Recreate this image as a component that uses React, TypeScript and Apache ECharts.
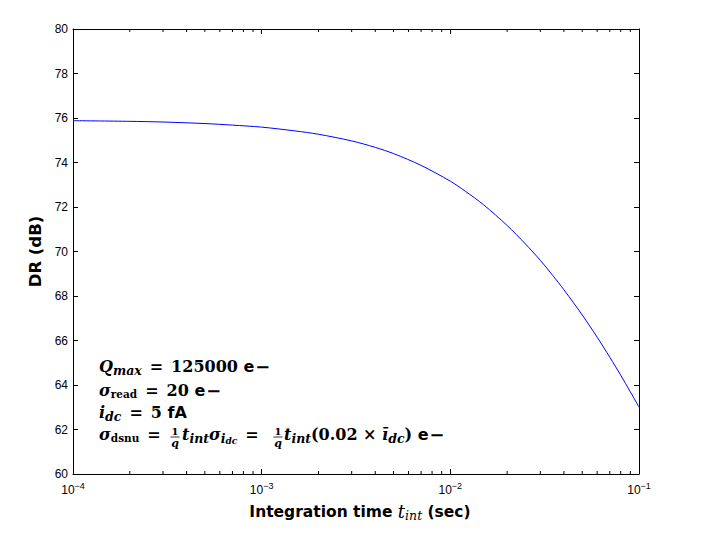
import React, { useEffect, useRef } from "react";
import * as echarts from "echarts";

// Integration time (s) and dynamic range (dB)
const timeSec = [
  1e-4, 2e-4, 3e-4, 5e-4, 7e-4, 1e-3, 1.5e-3, 2e-3, 3e-3, 4e-3, 5e-3, 7e-3,
  1e-2, 1.2e-2, 1.5e-2, 2e-2, 2.5e-2, 3e-2, 3.5e-2, 4e-2, 4.5e-2, 5e-2, 6e-2,
  7e-2, 8e-2, 9e-2, 1e-1,
];
const drDb = [
  75.88, 75.85, 75.82, 75.75, 75.68, 75.59, 75.42, 75.27, 74.97, 74.68, 74.4,
  73.87, 73.16, 72.71, 72.1, 71.17, 70.34, 69.6, 68.91, 68.28, 67.69, 67.15,
  66.15, 65.25, 64.44, 63.69, 63.01,
];

// minor tick positions of the log axis
const minorTicks = [
  2e-4, 3e-4, 4e-4, 5e-4, 6e-4, 7e-4, 8e-4, 9e-4,
  2e-3, 3e-3, 4e-3, 5e-3, 6e-3, 7e-3, 8e-3, 9e-3,
  2e-2, 3e-2, 4e-2, 5e-2, 6e-2, 7e-2, 8e-2, 9e-2,
];

const yMin = 60;
const yMax = 80;
const yStep = 2;
const xMin = 1e-4;
const xMax = 1e-1;

const SANS = "'Liberation Sans', Arial, Helvetica, sans-serif";
const SANS_B = "'DejaVu Sans', 'Liberation Sans', sans-serif";
const SERIF = "'DejaVu Serif', serif";

const mathRich: any = {
  mi: { fontFamily: SERIF, fontStyle: "italic", fontWeight: "bold", fontSize: 16, fill: "#000" },
  rm: { fontFamily: SERIF, fontWeight: "bold", fontSize: 16, fill: "#000" },
  mn: { fontFamily: SERIF, fontWeight: "bold", fontSize: 18, fill: "#000", padding: [0, 0, 0, 1] },
  eq: { fontFamily: SERIF, fontWeight: "bold", fontSize: 16, fill: "#000", padding: [0, 8, 0, 8] },
  sub: { fontFamily: SERIF, fontStyle: "italic", fontWeight: "bold", fontSize: 12.5, fill: "#000", padding: [8, 0, 0, 0] },
  subr: { fontFamily: SERIF, fontWeight: "bold", fontSize: 10.5, fill: "#000", padding: [8, 0, 0, 0] },
  subsub: { fontFamily: SERIF, fontStyle: "italic", fontWeight: "bold", fontSize: 9, fill: "#000", padding: [13, 0, 0, 0] },
  sf: { fontFamily: SANS_B, fontWeight: "bold", fontSize: 16, fill: "#000" },
};

function mathText(x: number, y: number, text: string) {
  return {
    type: "text",
    x,
    y,
    silent: true,
    style: { text, rich: mathRich, verticalAlign: "middle", align: "left", fill: "#000" },
  };
}

function fraction(cx: number, y: number) {
  return [
    {
      type: "text",
      x: cx,
      y: y - 6,
      silent: true,
      style: { text: "1", fontFamily: SERIF, fontWeight: "bold", fontSize: 10, fill: "#000", align: "center", verticalAlign: "middle" },
    },
    {
      type: "line",
      silent: true,
      shape: { x1: cx - 4.5, y1: y, x2: cx + 4.5, y2: y },
      style: { stroke: "#000", lineWidth: 0.8 },
    },
    {
      type: "text",
      x: cx,
      y: y + 6,
      silent: true,
      style: { text: "q", fontFamily: SERIF, fontStyle: "italic", fontWeight: "bold", fontSize: 11, fill: "#000", align: "center", verticalAlign: "middle" },
    },
  ];
}

export default function App() {
  const ref = useRef<HTMLDivElement>(null);

  useEffect(() => {
    if (!ref.current) return;
    const chart = echarts.init(ref.current, undefined, { renderer: "svg" });

    const axisCommon = {
      axisLine: { show: true, onZero: false, lineStyle: { color: "#000", width: 1 } },
      axisTick: { show: true, inside: true, length: 5, lineStyle: { color: "#000", width: 1 } },
      splitLine: { show: false },
      minorTick: { show: false },
    };

    const option: any = {
      animation: false,
      backgroundColor: "#fff",
      grid: { left: 73, right: 71, top: 29, bottom: 73, containLabel: false },
      xAxis: [
        {
          type: "log",
          logBase: 10,
          min: xMin,
          max: xMax,
          position: "bottom",
          ...axisCommon,
          axisLabel: {
            margin: 7,
            formatter: (v: number) => {
              const e = Math.round(Math.log10(v));
              return `{b|10}{s|${e < 0 ? "\u2212" : ""}${Math.abs(e)}}`;
            },
            rich: {
              b: { fontFamily: SANS, fontSize: 12, color: "#000" },
              s: { fontFamily: SANS, fontSize: 9, color: "#000", padding: [0, 0, 9, 0] },
            },
          },
          name: "{a|Integration time }{t|t}{ts|int}{a| (sec)}",
          nameLocation: "middle",
          nameGap: 27,
          nameTextStyle: {
            padding: [0, 0, 0, 8],
            rich: {
              a: { fontFamily: SANS_B, fontWeight: "bold", fontSize: 15.5, color: "#000" },
              t: { fontFamily: SERIF, fontStyle: "italic", fontSize: 18, color: "#000" },
              ts: { fontFamily: SERIF, fontStyle: "italic", fontSize: 12.5, color: "#000", padding: [8, 0, 0, 0] },
            },
          },
        },
        {
          type: "log",
          logBase: 10,
          min: xMin,
          max: xMax,
          position: "top",
          ...axisCommon,
          axisLabel: { show: false },
        },
      ],
      yAxis: [
        {
          type: "value",
          min: yMin,
          max: yMax,
          interval: yStep,
          position: "left",
          ...axisCommon,
          axisLabel: { margin: 5, fontFamily: SANS, fontSize: 12, color: "#000" },
          name: "DR (dB)",
          nameLocation: "middle",
          nameGap: 29,
          nameTextStyle: { fontFamily: SANS_B, fontWeight: "bold", fontSize: 16.5, color: "#000" },
        },
        {
          type: "value",
          min: yMin,
          max: yMax,
          interval: yStep,
          position: "right",
          ...axisCommon,
          axisLabel: { show: false },
        },
      ],
      series: [
        {
          type: "line",
          xAxisIndex: 0,
          yAxisIndex: 0,
          data: timeSec.map((t, i) => [t, drDb[i]]),
          symbol: "none",
          showSymbol: false,
          smooth: 0.3,
          lineStyle: { color: "#0000ff", width: 1 },
          clip: true,
          silent: true,
        },
        {
          type: "custom",
          xAxisIndex: 0,
          yAxisIndex: 0,
          silent: true,
          data: minorTicks.map((v) => [v, yMin]),
          renderItem: (_params: any, api: any) => {
            const v = api.value(0);
            const b = api.coord([v, yMin]);
            const t = api.coord([v, yMax]);
            return {
              type: "group",
              children: [
                { type: "line", shape: { x1: b[0], y1: b[1], x2: b[0], y2: b[1] - 3 }, style: { stroke: "#000", lineWidth: 1 } },
                { type: "line", shape: { x1: t[0], y1: t[1], x2: t[0], y2: t[1] + 3 }, style: { stroke: "#000", lineWidth: 1 } },
              ],
            };
          },
        },
      ],
      graphic: [
        mathText(99, 366, "{mi|Q}{sub|max}{eq|=}{rm|125000}{sf| e}{mn|\u2212}"),
        mathText(99, 390, "{mi|\u03c3}{subr|read}{eq|=}{rm|20}{sf| e}{mn|\u2212}"),
        mathText(99, 412, "{mi|i}{sub|dc}{eq|=}{rm|5}{sf| fA}"),
        mathText(99, 434, "{mi|\u03c3}{subr|dsnu}{eq|=}"),
        ...fraction(175, 437),
        mathText(182, 434, "{mi|t}{sub|int}{mi|\u03c3}{sub|i}{subsub|dc}{eq|=}"),
        ...fraction(278, 437),
        mathText(284, 434, "{mi|t}{sub|int}{rm|(0.02 \u00d7 }{mi|\u012b}{sub|dc}{rm|)}{sf| e}{mn|\u2212}"),
      ],
    };

    chart.setOption(option);
    return () => chart.dispose();
  }, []);

  return (
    <div
      ref={ref}
      style={{ position: "fixed", left: 0, top: 0, width: 710, height: 547, background: "#fff" }}
    />
  );
}
